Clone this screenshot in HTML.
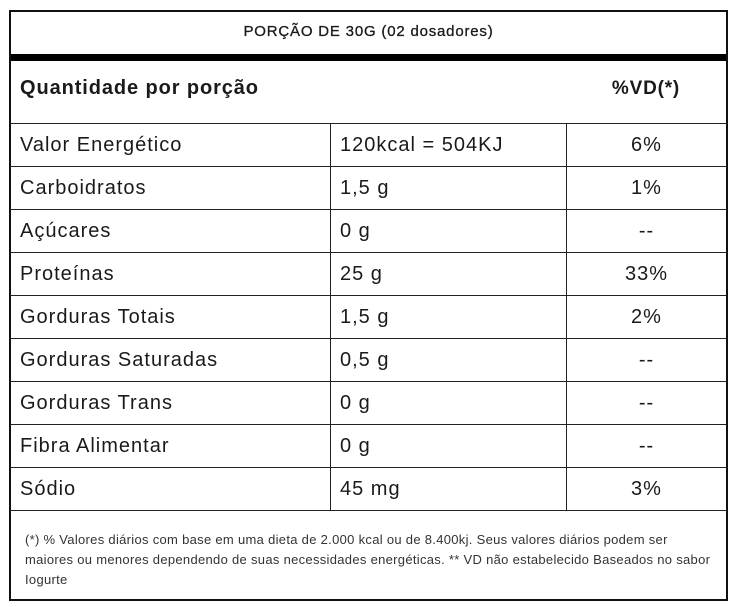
<!DOCTYPE html>
<html><head><meta charset="utf-8"><style>
body{margin:0;width:735px;height:607px;background:#fff;font-family:"Liberation Sans",sans-serif;color:#1a1a1a;position:relative;overflow:hidden}
.a{position:absolute}
.h{left:10px;height:1px;background:#222;width:716px}
.v{width:1px;background:#222}
.t{position:absolute;font-size:20px;letter-spacing:1px;line-height:43px;white-space:nowrap}
</style></head><body>
<div class="a" style="left:9px;top:10px;width:715px;height:587px;border:2px solid #111"></div>
<div class="a" style="left:11px;top:10px;width:715px;line-height:44px;text-align:center;font-size:15px;letter-spacing:0.8px;-webkit-text-stroke:0.3px #1a1a1a">PORÇÃO DE 30G (02 dosadores)</div>
<div class="a" style="left:11px;top:54px;width:715px;height:7px;background:#000"></div>
<div class="a" style="left:20px;top:61px;line-height:55px;font-size:20px;font-weight:bold;letter-spacing:0.9px">Quantidade por porção</div>
<div class="a" style="left:566px;top:61px;width:160px;line-height:55px;text-align:center;font-size:19px;font-weight:bold;letter-spacing:0.8px">%VD(*)</div>
<div id="rows"></div>
<div class="a" style="left:25px;top:530px;width:692px;font-size:13px;line-height:20px;letter-spacing:0.3px;color:#333">(*) % Valores diários com base em uma dieta de 2.000 kcal ou de 8.400kj. Seus valores diários podem ser maiores ou menores dependendo de suas necessidades energéticas. ** VD não estabelecido Baseados no sabor Iogurte</div>
<script>
const nutrients=["Valor Energético","Carboidratos","Açúcares","Proteínas","Gorduras Totais","Gorduras Saturadas","Gorduras Trans","Fibra Alimentar","Sódio"];
const amounts=["120kcal = 504KJ","1,5 g","0 g","25 g","1,5 g","0,5 g","0 g","0 g","45 mg"];
const vds=["6%","1%","--","33%","2%","--","--","--","3%"];
const root=document.getElementById('rows');
const top0=123,rh=43;
function add(cls,style,text,name){const d=document.createElement('div');d.className=cls;d.setAttribute('style',style);if(text!==undefined)d.textContent=text;


root.appendChild(d);}
for(let i=0;i<=nutrients.length;i++){add('a h','top:'+(top0+i*rh)+'px',undefined,'row-divider');}
const n=nutrients.length;
add('a v','left:330px;top:'+top0+'px;height:'+(n*rh)+'px',undefined,'column-divider');
add('a v','left:566px;top:'+top0+'px;height:'+(n*rh)+'px',undefined,'column-divider');
nutrients.forEach((nm,i)=>{const y=top0+i*rh+1;
add('t','left:20px;top:'+y+'px',nm,'nutrient-name');
add('t','left:340px;top:'+y+'px',amounts[i],'nutrient-amount');
add('t','left:567px;width:159px;text-align:center;top:'+y+'px',vds[i],'nutrient-vd');});
</script>
</body></html>
